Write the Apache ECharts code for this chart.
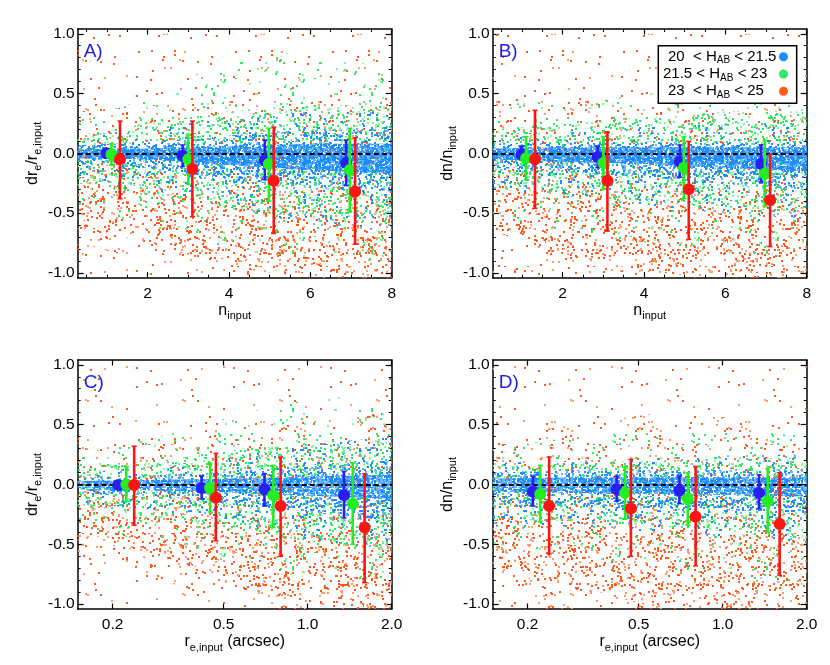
<!DOCTYPE html>
<html lang="en">
<head>
<meta charset="UTF-8">
<title>Structural parameter recovery</title>
<script src="https://cdn.jsdelivr.net/npm/echarts@6/dist/echarts.min.js"></script>
<style>
    *{margin:0;padding:0;}
    html,body{width:100%;height:100%;background:#fff;}
    .main{width:830px;height:665px;}
</style>
</head>
<body>
<div class="main"></div>
<script>
    // ---- error points, [x, median, lower, upper] ----
    const aBlue  = [[0.99, 0.00, -0.03, 0.03], [2.86, -0.02, -0.11, 0.07], [4.88, -0.06, -0.22, 0.11], [6.88, -0.08, -0.27, 0.11]];
    const aGreen = [[1.11, -0.01, -0.10, 0.08], [3.00, -0.05, -0.26, 0.16], [4.98, -0.09, -0.40, 0.21], [6.97, -0.14, -0.49, 0.21]];
    const aRed   = [[1.32, -0.05, -0.38, 0.27], [3.10, -0.13, -0.53, 0.27], [5.10, -0.23, -0.67, 0.22], [7.10, -0.32, -0.76, 0.13]];

    const bBlue  = [[0.99, -0.01, -0.05, 0.06], [2.86, -0.03, -0.12, 0.06], [4.88, -0.07, -0.20, 0.07], [6.88, -0.09, -0.24, 0.07]];
    const bGreen = [[1.10, -0.04, -0.22, 0.14], [3.00, -0.08, -0.30, 0.14], [4.98, -0.12, -0.38, 0.14], [6.97, -0.17, -0.44, 0.11]];
    const bRed   = [[1.32, -0.05, -0.46, 0.36], [3.10, -0.23, -0.65, 0.18], [5.10, -0.30, -0.72, 0.10], [7.10, -0.39, -0.78, -0.01]];

    const cBlue  = [[0.210, -0.005, -0.04, 0.03], [0.417, -0.03, -0.12, 0.07], [0.700, -0.04, -0.18, 0.09], [1.35, -0.09, -0.28, 0.11]];
    const cGreen = [[0.224, 0.00, -0.14, 0.15], [0.447, -0.03, -0.23, 0.18], [0.753, -0.09, -0.36, 0.16], [1.45, -0.16, -0.50, 0.18]];
    const cRed   = [[0.239, -0.005, -0.34, 0.32], [0.469, -0.11, -0.47, 0.26], [0.800, -0.18, -0.60, 0.23], [1.60, -0.36, -0.82, 0.09]];

    const dBlue  = [[0.209, -0.06, -0.18, 0.07], [0.417, -0.04, -0.14, 0.07], [0.700, -0.05, -0.16, 0.07], [1.35, -0.07, -0.20, 0.08]];
    const dGreen = [[0.222, -0.08, -0.31, 0.16], [0.447, -0.07, -0.29, 0.15], [0.750, -0.12, -0.34, 0.10], [1.45, -0.14, -0.40, 0.13]];
    const dRed   = [[0.239, -0.18, -0.58, 0.23], [0.469, -0.20, -0.60, 0.21], [0.800, -0.27, -0.68, 0.15], [1.60, -0.33, -0.76, 0.10]];

    // ---- galaxy clouds, read as envelopes [x, lower, upper] ----
    const nOrangeBg = [[0.28, -1.04, 1.0], [8, -1.04, 1.0]];
    const rOrangeBg = [[0.15, -1.04, 1.0], [2.0, -1.04, 1.0]];

    const aOrangeMid  = [[0.28, -0.75, 0.35], [2, -0.9, 0.4], [4, -1.04, 0.45], [6, -1.04, 0.5], [8, -1.04, 0.5]];
    const aOrangeLow  = [[0.28, -0.6, -0.05], [2, -0.75, -0.12], [4, -0.95, -0.22], [6, -1.04, -0.28], [8, -1.04, -0.3]];
    const aOrangeDeep = [[0.28, -0.55, -0.2], [2, -0.7, -0.3], [4, -0.9, -0.4], [6, -1.04, -0.45], [8, -1.04, -0.45]];
    const aGreenOut   = [[0.28, -0.45, 0.3], [2, -0.6, 0.45], [4, -0.8, 0.8], [6, -0.9, 0.85], [8, -0.9, 0.7]];
    const aGreenIn    = [[0.28, -0.25, 0.15], [2, -0.35, 0.25], [4, -0.45, 0.35], [6, -0.55, 0.4], [8, -0.6, 0.4]];
    const aBlueOut    = [[0.28, -0.2, 0.15], [2, -0.3, 0.2], [4, -0.45, 0.3], [6, -0.6, 0.35], [8, -0.65, 0.35]];
    const aBlueMid    = [[0.28, -0.09, 0.07], [2, -0.12, 0.09], [4, -0.22, 0.15], [6, -0.28, 0.2], [8, -0.32, 0.2]];
    const aBlueCore   = [[0.28, -0.04, 0.035], [2, -0.05, 0.04], [4, -0.1, 0.06], [6, -0.14, 0.08], [8, -0.17, 0.08]];

    const bOrangeMid  = [[0.28, -1.04, 0.45], [2, -1.04, 0.5], [4, -1.04, 0.4], [6, -1.04, 0.35], [8, -1.04, 0.3]];
    const bOrangeLow  = [[0.28, -0.65, -0.1], [2, -0.85, -0.15], [4, -1.0, -0.25], [6, -1.04, -0.3], [8, -1.04, -0.3]];
    const bOrangeDeep = [[0.28, -0.6, -0.25], [2, -0.8, -0.32], [4, -1.0, -0.42], [6, -1.04, -0.45], [8, -1.04, -0.45]];
    const bGreenOut   = [[0.28, -0.55, 0.4], [2, -0.65, 0.45], [4, -0.75, 0.5], [6, -0.85, 0.5], [8, -0.9, 0.4]];
    const bGreenIn    = [[0.28, -0.3, 0.2], [2, -0.35, 0.25], [4, -0.4, 0.3], [6, -0.45, 0.35], [8, -0.5, 0.35]];
    const bBlueOut    = [[0.28, -0.3, 0.15], [2, -0.35, 0.2], [4, -0.45, 0.22], [6, -0.5, 0.25], [8, -0.55, 0.25]];
    const bBlueMid    = [[0.28, -0.12, 0.08], [2, -0.15, 0.1], [4, -0.2, 0.1], [6, -0.25, 0.1], [8, -0.3, 0.1]];
    const bBlueCore   = [[0.28, -0.05, 0.04], [2, -0.07, 0.05], [4, -0.09, 0.05], [6, -0.12, 0.05], [8, -0.15, 0.05]];

    const cOrangeMid  = [[0.15, -0.6, 0.3], [0.3, -0.8, 0.4], [0.6, -1.04, 0.5], [1.2, -1.04, 0.6], [2.0, -1.04, 0.6]];
    const cOrangeLow  = [[0.15, -0.45, -0.05], [0.3, -0.6, -0.08], [0.6, -0.9, -0.15], [1.2, -1.04, -0.25], [2.0, -1.04, -0.25]];
    const cOrangeDeep = [[0.15, -0.4, -0.15], [0.3, -0.55, -0.22], [0.6, -0.9, -0.32], [1.2, -1.04, -0.42], [2.0, -1.04, -0.45]];
    const cGreenOut   = [[0.15, -0.35, 0.25], [0.3, -0.5, 0.4], [0.6, -0.7, 0.6], [1.2, -0.8, 0.75], [2.0, -0.8, 0.6]];
    const cGreenIn    = [[0.15, -0.2, 0.15], [0.3, -0.28, 0.2], [0.6, -0.4, 0.3], [1.2, -0.5, 0.35], [2.0, -0.55, 0.35]];
    const cBlueOut    = [[0.15, -0.15, 0.1], [0.3, -0.22, 0.15], [0.6, -0.35, 0.25], [1.2, -0.5, 0.35], [2.0, -0.55, 0.4]];
    const cBlueMid    = [[0.15, -0.08, 0.06], [0.3, -0.1, 0.08], [0.6, -0.16, 0.12], [1.2, -0.25, 0.18], [2.0, -0.3, 0.2]];
    const cBlueCore   = [[0.15, -0.04, 0.03], [0.3, -0.05, 0.04], [0.6, -0.07, 0.05], [1.2, -0.1, 0.07], [2.0, -0.12, 0.08]];

    const dOrangeMid  = [[0.15, -1.04, 0.4], [0.3, -1.04, 0.5], [0.6, -1.04, 0.6], [1.2, -1.04, 0.55], [2.0, -1.04, 0.5]];
    const dOrangeLow  = [[0.15, -0.7, -0.1], [0.3, -0.9, -0.15], [0.6, -1.04, -0.2], [1.2, -1.04, -0.25], [2.0, -1.04, -0.25]];
    const dOrangeDeep = [[0.15, -0.65, -0.25], [0.3, -0.85, -0.3], [0.6, -1.04, -0.38], [1.2, -1.04, -0.42], [2.0, -1.04, -0.42]];
    const dGreenOut   = [[0.15, -0.5, 0.3], [0.3, -0.6, 0.4], [0.6, -0.7, 0.45], [1.2, -0.8, 0.45], [2.0, -0.85, 0.4]];
    const dGreenIn    = [[0.15, -0.3, 0.15], [0.3, -0.3, 0.18], [0.6, -0.35, 0.2], [1.2, -0.4, 0.22], [2.0, -0.45, 0.22]];
    const dBlueOut    = [[0.15, -0.35, 0.18], [0.3, -0.35, 0.2], [0.6, -0.4, 0.22], [1.2, -0.45, 0.25], [2.0, -0.5, 0.25]];
    const dBlueMid    = [[0.15, -0.15, 0.1], [0.3, -0.17, 0.12], [0.6, -0.2, 0.12], [1.2, -0.22, 0.12], [2.0, -0.25, 0.12]];
    const dBlueCore   = [[0.15, -0.06, 0.05], [0.3, -0.07, 0.06], [0.6, -0.08, 0.06], [1.2, -0.09, 0.06], [2.0, -0.1, 0.06]];

    // ---- ticks and labels ----
    const nTicks = [2, 4, 6, 8];
    const nMinor = [0.5, 1, 1.5, 2.5, 3, 3.5, 4.5, 5, 5.5, 6.5, 7, 7.5];
    const rTicks = [0.2, 0.5, 1.0, 2.0];
    const yTicks = [-1.0, -0.5, 0.0, 0.5, 1.0];
    const yMinor = [-0.9, -0.8, -0.7, -0.6, -0.4, -0.3, -0.2, -0.1, 0.1, 0.2, 0.3, 0.4, 0.6, 0.7, 0.8, 0.9];
    const magBins = ['20  < H', '21.5 < H', '23  < H'];
    const magTops = ['21.5', '23', '25'];
    const panelTags = ['A)', 'B)', 'C)', 'D)'];

    const FONT = '"Liberation Sans", Arial, Helvetica, sans-serif';
    const C_BLUE = '#2a1ef0', C_GREEN = '#22ee22', C_RED = '#ff1414';
    const CLOUD = {
        orange: ['#ff5a1a', '#ff9a6c'],
        green: ['#2ee860', '#86f5a0'],
        blue: ['#1e8cff', '#6cb4ff']
    };

    // speckle textures standing in for the individual galaxies (fixed hash, not data)
    function speck(i, s) {
        let h = Math.imul(i * 374761393 + s * 668265263, 1274126177) >>> 0;
        h = Math.imul(h ^ (h >>> 13), 1103515245) >>> 0;
        h ^= h >>> 16;
        return (h >>> 0) / 4294967296;
    }
    function dotTile(cols, density, size, seed) {
        let c = document.createElement('canvas');
        c.width = size; c.height = size;
        let ctx = c.getContext('2d');
        let n = Math.round(density * size * size / 100);
        for (let i = 0; i < n; i++) {
            ctx.fillStyle = i % 3 === 2 ? cols[1] : cols[0];
            ctx.fillRect(Math.floor(speck(2 * i, seed) * size), Math.floor(speck(2 * i + 1, seed) * size), 2, 2);
        }
        return {image: c, repeat: 'repeat'};
    }
    const bandKinds = [
        dotTile(CLOUD.orange, 0.45, 97, 11),
        dotTile(CLOUD.orange, 0.9, 89, 23),
        dotTile(CLOUD.orange, 1.5, 83, 37),
        dotTile(CLOUD.orange, 1.5, 91, 31),
        dotTile(CLOUD.green, 0.9, 79, 41),
        dotTile(CLOUD.green, 3.6, 73, 53),
        dotTile(CLOUD.blue, 2.0, 67, 67),
        dotTile(CLOUD.blue, 7.0, 71, 79),
        dotTile(CLOUD.blue, 40, 61, 97)
    ];

    const RICH = {
        m: {fontSize: 16, lineHeight: 22, fontFamily: FONT, color: '#000'},
        s: {fontSize: 11, lineHeight: 12, fontFamily: FONT, color: '#000', verticalAlign: 'bottom'}
    };
    const nName = '{m|n}{s|input}';
    const rName = '{m|r}{s|e,input}{m| (arcsec)}';
    const reName = '{m|dr}{s|e}{m|/r}{s|e,input}';
    const nnName = '{m|dn/n}{s|input}';

    const panels = [
        {log: false, err: [aBlue, aGreen, aRed], xName: nName, yName: reName,
            bands: [nOrangeBg, aOrangeMid, aOrangeLow, aOrangeDeep, aGreenOut, aGreenIn, aBlueOut, aBlueMid, aBlueCore]},
        {log: false, err: [bBlue, bGreen, bRed], xName: nName, yName: nnName,
            bands: [nOrangeBg, bOrangeMid, bOrangeLow, bOrangeDeep, bGreenOut, bGreenIn, bBlueOut, bBlueMid, bBlueCore]},
        {log: true, err: [cBlue, cGreen, cRed], xName: rName, yName: reName,
            bands: [rOrangeBg, cOrangeMid, cOrangeLow, cOrangeDeep, cGreenOut, cGreenIn, cBlueOut, cBlueMid, cBlueCore]},
        {log: true, err: [dBlue, dGreen, dRed], xName: rName, yName: nnName,
            bands: [rOrangeBg, dOrangeMid, dOrangeLow, dOrangeDeep, dGreenOut, dGreenIn, dBlueOut, dBlueMid, dBlueCore]}
    ];
    const grids = [
        {left: 77.7, top: 29, width: 314, height: 248.7},
        {left: 492.7, top: 29, width: 314, height: 248.7},
        {left: 77.7, top: 360, width: 314, height: 249},
        {left: 492.7, top: 360, width: 314, height: 249}
    ];

    const lg = v => Math.log10(v);
    let xAxis = [], yAxis = [], series = [], graphic = [];

    panels.forEach((p, g) => {
        let tx = p.log ? lg : (v => v);
        let xMin = p.log ? lg(0.15) : 0.28, xMax = p.log ? lg(2.0) : 8;
        let major = p.log ? rTicks.map(lg) : nTicks;
        let minor = p.log ? [] : nMinor;
        let fmt = p.log ? (v => Math.pow(10, v).toFixed(1)) : (v => String(v));
        let line = {show: true, onZero: false, lineStyle: {color: '#000', width: 1.5}};
        let noLine = {show: false, onZero: false};
        ['bottom', 'top'].forEach(pos => {
            xAxis.push({
                gridIndex: g, type: 'value', position: pos, min: xMin, max: xMax,
                axisLine: line, splitLine: {show: false},
                axisTick: {show: true, inside: true, length: 5.5, customValues: major, lineStyle: {color: '#000', width: 1.2}},
                axisLabel: pos === 'bottom'
                    ? {show: true, customValues: major, formatter: fmt, color: '#000', fontSize: 15.5, fontFamily: FONT, margin: 8}
                    : {show: false},
                name: pos === 'bottom' ? p.xName : '', nameLocation: 'middle', nameGap: 22,
                nameTextStyle: {rich: RICH}
            });
            xAxis.push({
                gridIndex: g, type: 'value', position: pos, min: xMin, max: xMax,
                axisLine: noLine, splitLine: {show: false}, axisLabel: {show: false},
                axisTick: {show: minor.length > 0, inside: true, length: 3, customValues: minor, lineStyle: {color: '#000', width: 1}}
            });
        });
        ['left', 'right'].forEach(pos => {
            yAxis.push({
                gridIndex: g, type: 'value', position: pos, min: -1.04, max: 1.04,
                axisLine: line, splitLine: {show: false},
                axisTick: {show: true, inside: true, length: 6, customValues: yTicks, lineStyle: {color: '#000', width: 1.2}},
                axisLabel: pos === 'left'
                    ? {show: true, customValues: yTicks, formatter: v => v.toFixed(1), color: '#000', fontSize: 15.5, fontFamily: FONT, margin: 3}
                    : {show: false},
                name: pos === 'left' ? p.yName : '', nameLocation: 'middle', nameGap: 34,
                nameTextStyle: {rich: RICH}
            });
            yAxis.push({
                gridIndex: g, type: 'value', position: pos, min: -1.04, max: 1.04,
                axisLine: noLine, splitLine: {show: false}, axisLabel: {show: false},
                axisTick: {show: true, inside: true, length: 3, customValues: yMinor, lineStyle: {color: '#000', width: 1}}
            });
        });

        let ax = g * 4;
        // clouds
        p.bands.forEach((rows, k) => {
            let fill = bandKinds[k];
            series.push({
                type: 'custom', xAxisIndex: ax, yAxisIndex: ax, silent: true, z: 1,
                data: [0],
                renderItem: (params, api) => {
                    let up = rows.map(r => api.coord([tx(r[0]), r[2]]));
                    let dn = rows.slice().reverse().map(r => api.coord([tx(r[0]), r[1]]));
                    return {type: 'polygon', shape: {points: up.concat(dn)}, style: {fill: fill, stroke: null}};
                }
            });
        });
        // dashed zero line
        series.push({
            type: 'line', xAxisIndex: ax, yAxisIndex: ax, data: [], z: 3, silent: true,
            markLine: {silent: true, symbol: 'none', label: {show: false}, animation: false,
                lineStyle: {color: '#000', type: [5, 3], width: 2}, data: [{yAxis: 0}]}
        });
        // medians with error bars
        [C_BLUE, C_GREEN, C_RED].forEach((col, k) => {
            series.push({
                type: 'custom', xAxisIndex: ax, yAxisIndex: ax, z: 5,
                data: p.err[k].map(r => [tx(r[0]), r[1], r[2], r[3]]),
                renderItem: (params, api) => {
                    let c = api.coord([api.value(0), api.value(1)]);
                    let lo = api.coord([api.value(0), api.value(2)]);
                    let hi = api.coord([api.value(0), api.value(3)]);
                    return {type: 'group', children: [
                        {type: 'line', shape: {x1: c[0], y1: lo[1], x2: c[0], y2: hi[1]}, style: {stroke: col, lineWidth: 2.6}},
                        {type: 'line', shape: {x1: c[0] - 2.5, y1: lo[1], x2: c[0] + 2.5, y2: lo[1]}, style: {stroke: col, lineWidth: 1.5}},
                        {type: 'line', shape: {x1: c[0] - 2.5, y1: hi[1], x2: c[0] + 2.5, y2: hi[1]}, style: {stroke: col, lineWidth: 1.5}},
                        {type: 'circle', shape: {cx: c[0], cy: c[1], r: 6}, style: {fill: col}}
                    ]};
                }
            });
        });

        let gr = grids[g];
        graphic.push({type: 'text', x: gr.left + 6, y: gr.top + 23, z: 50,
            style: {text: panelTags[g], fill: '#1c1cf0', font: '19px ' + FONT, verticalAlign: 'middle'}});
    });

    // legend box in panel B
    graphic.push({type: 'rect', x: 658.3, y: 45.7, z: 60, shape: {width: 138.4, height: 57.6},
        style: {fill: '#fff', stroke: '#000', lineWidth: 1.5}});
    const legendX = [668, 663, 668];
    const legendY = [56.7, 74, 91.3];
    [CLOUD.blue[0], CLOUD.green[0], CLOUD.orange[0]].forEach((col, i) => {
        graphic.push({type: 'text', x: legendX[i], y: legendY[i], z: 61,
            style: {
                text: '{m|' + magBins[i] + '}{s|AB}{m| < ' + magTops[i] + '}',
                verticalAlign: 'middle',
                rich: {
                    m: {fontSize: 15, lineHeight: 18, fontFamily: FONT, fill: '#000'},
                    s: {fontSize: 10, lineHeight: 10, fontFamily: FONT, fill: '#000', verticalAlign: 'bottom'}
                }
            }});
        graphic.push({type: 'circle', x: 783.5, y: legendY[i], z: 61, shape: {r: 4.5}, style: {fill: col}});
    });

    let main = echarts.init(document.getElementsByClassName('main')[0]);
    main.setOption({
        backgroundColor: '#fff',
        animation: false,
        grid: grids,
        xAxis,
        yAxis,
        series,
        graphic
    });
</script>
</body>
</html>
